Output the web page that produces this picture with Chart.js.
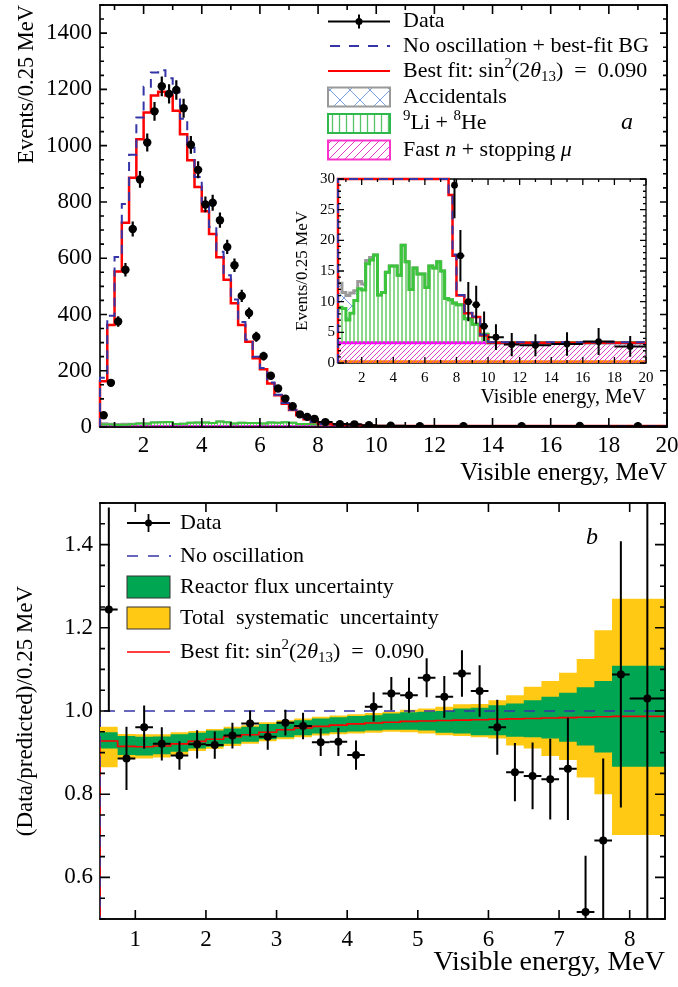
<!DOCTYPE html>
<html>
<head>
<meta charset="utf-8">
<script src="https://cdn.jsdelivr.net/npm/chart.js"></script>
<style>
  body { margin: 0; background: #fff; overflow: hidden; }
  #wrap { position: relative; width: 678px; height: 987px; }
  canvas { position: absolute; }
  #top { left: 0; top: 0; }
  #inset { left: 280px; top: 170px; }
  #bottom { left: 0; top: 490px; }
</style>
</head>
<body>
<div id="wrap">
  <canvas id="top" width="678" height="490"></canvas>
  <canvas id="inset" width="380" height="240"></canvas>
  <canvas id="bottom" width="678" height="497"></canvas>
</div>
<script>
const FONT = '"Liberation Serif", "Times New Roman", serif';
const RED = '#ff0000';
const BLUE = '#3535a8';

// ---- panel a: events / 0.25 MeV ----
const binEdges = [0.5, 0.75, 1, 1.25, 1.5, 1.75, 2, 2.25, 2.5, 2.75, 3, 3.25, 3.5, 3.75, 4, 4.25, 4.5, 4.75,
  5, 5.25, 5.5, 5.75, 6, 6.25, 6.5, 6.75, 7, 7.25, 7.5, 7.75, 8, 8.5, 9, 9.5, 10, 11, 12, 14, 16, 18, 20];
const dataCounts = [42, 157, 375, 559, 704, 880, 1011, 1122, 1211, 1184, 1198, 1133, 1003, 914, 791, 797, 735, 640,
  575, 466, 405, 321, 252, 182, 137, 101, 74, 45, 36, 29, 17.5, 10, 9.5, 6, 4.2, 3.0, 2.9, 3.1, 3.5, 2.7];
const dataErr = [6.5, 12.5, 19, 24, 26.5, 30, 32, 33.5, 35, 34.5, 34.6, 33.7, 31.7, 30.2, 28.1, 28.2, 27.1, 25.3,
  24, 21.6, 20.1, 17.9, 15.9, 13.5, 11.7, 10, 8.6, 6.7, 6, 5.4, 4.2, 3.2, 3.1, 2.4, 2.1, 1.9, 1.8, 1.9, 2.2, 1.7];
const bestFit = [35, 163, 363, 553, 726, 886, 1023, 1118, 1178, 1192, 1178, 1124, 1041, 948, 853, 767, 686, 603,
  523, 440, 363, 303, 244, 205, 155, 113, 83, 60, 42, 27.4, 17.5, 11, 8.1, 7.5, 4.5, 3.3, 3.3, 3.3, 3.3, 3.3];
const noOsc = [37, 175, 395, 604, 793, 968, 1100, 1209, 1260, 1268, 1240, 1189, 1096, 993, 889, 797, 711, 623,
  539, 453, 373, 310, 250, 210, 158, 115, 85, 61, 43, 27.8, 17.7, 11.1, 8.2, 7.6, 4.6, 3.4, 3.4, 3.4, 3.4, 3.4];
const bgFastN = [3.3, 3.3, 3.3, 3.3, 3.3, 3.3, 3.3, 3.3, 3.3, 3.3, 3.3, 3.3, 3.3, 3.3, 3.3, 3.3, 3.3, 3.3, 3.3, 3.3,
  3.3, 3.3, 3.3, 3.3, 3.3, 3.3, 3.3, 3.3, 3.3, 3.3, 3.3, 3.3, 3.3, 3.3, 3.3, 3.3, 3.3, 3.3, 3.3, 3.3];
const bgLiHe = [5.0, 5.8, 5.6, 3.7, 4.8, 6.9, 8.8, 8.6, 12.9, 13.5, 14.3, 7.8, 8.2, 11.5, 12.5, 12.5, 11.0, 15.9,
  13.2, 8.7, 12.2, 11.2, 11.2, 9.0, 12.5, 12.2, 13.2, 11.7, 7.2, 7.0, 6.5, 6.2, 3.9, 3.0, 1.4, 0, 0, 0, 0, 0];
const bgAcc = [6.0, 3.9, 2.6, 4.0, 3.3, 1.6, 1.2, 1.0, 0.5, 0.4, 0, 0, 0, 0, 0, 0, 0, 0, 0, 0,
  0, 0, 0, 0, 0, 0, 0, 0, 0, 0, 0, 0, 0, 0, 0, 0, 0, 0, 0, 0];
const bgAmC = [0.2, 0.2, 0.2, 0.2, 0.2, 0.2, 0.2, 0.2, 0.2, 0.2, 0.2, 0.2, 0.2, 0.2, 0.2, 0.2, 0.2, 0.2, 0.2, 0.2,
  0.2, 0.2, 0.2, 0.2, 0.2, 0.2, 0.2, 0.2, 0.2, 0.2, 0.2, 0.2, 0.2, 0.2, 0.2, 0.2, 0.2, 0.2, 0.2, 0.2];
const topXTicks = [2, 4, 6, 8, 10, 12, 14, 16, 18, 20];
const topYTicks = [0, 200, 400, 600, 800, 1000, 1200, 1400];
const insetXTicks = [2, 4, 6, 8, 10, 12, 14, 16, 18, 20];
const insetYTicks = [0, 5, 10, 15, 20, 25, 30];

// ---- panel b: data / prediction ----
const ratioEdges = [0.5, 0.75, 1, 1.25, 1.5, 1.75, 2, 2.25, 2.5, 2.75, 3, 3.25, 3.5, 3.75, 4, 4.25, 4.5, 4.75,
  5, 5.25, 5.5, 5.75, 6, 6.25, 6.5, 6.75, 7, 7.25, 7.5, 7.75, 8, 8.5];
const ratioData = [1.244, 0.886, 0.961, 0.921, 0.893, 0.920, 0.918, 0.941, 0.970, 0.938, 0.972, 0.964, 0.925,
  0.926, 0.894, 1.010, 1.042, 1.038, 1.080, 1.034, 1.090, 1.048, 0.961, 0.853, 0.844, 0.836, 0.861, 0.517,
  0.689, 1.088, 1.030];
const ratioErr = [0.245, 0.076, 0.052, 0.040, 0.034, 0.034, 0.033, 0.031, 0.031, 0.031, 0.031, 0.032, 0.033,
  0.034, 0.035, 0.035, 0.040, 0.042, 0.047, 0.050, 0.056, 0.062, 0.066, 0.070, 0.080, 0.097, 0.123, 0.135,
  0.197, 0.320, 0.600];
const noOscRatio = [1, 1, 1, 1, 1, 1, 1, 1, 1, 1, 1, 1, 1, 1, 1, 1, 1, 1, 1, 1, 1, 1, 1, 1, 1, 1, 1, 1, 1, 1, 1];
const fitRatio = [0.936, 0.928, 0.915, 0.914, 0.916, 0.921, 0.927, 0.932, 0.938, 0.943, 0.949, 0.955, 0.959,
  0.963, 0.966, 0.969, 0.971, 0.973, 0.975, 0.976, 0.977, 0.978, 0.979, 0.980, 0.981, 0.982, 0.983, 0.984,
  0.985, 0.986, 0.987];
const fluxHi = [0.958, 0.949, 0.940, 0.938, 0.939, 0.944, 0.948, 0.953, 0.958, 0.962, 0.969, 0.974, 0.978,
  0.982, 0.985, 0.988, 0.990, 0.994, 0.997, 0.998, 1.000, 1.006, 1.008, 1.014, 1.018, 1.026, 1.034, 1.044,
  1.057, 1.072, 1.109];
const fluxLo = [0.918, 0.910, 0.894, 0.893, 0.896, 0.902, 0.910, 0.914, 0.921, 0.926, 0.932, 0.937, 0.942,
  0.946, 0.949, 0.951, 0.953, 0.955, 0.955, 0.953, 0.948, 0.946, 0.942, 0.942, 0.938, 0.937, 0.934, 0.926,
  0.917, 0.900, 0.866];
const totHi = [0.996, 0.962, 0.945, 0.944, 0.944, 0.949, 0.952, 0.957, 0.962, 0.966, 0.973, 0.978, 0.982,
  0.986, 0.989, 0.992, 0.995, 0.998, 1.003, 1.006, 1.010, 1.016, 1.017, 1.026, 1.038, 1.058, 1.072, 1.092,
  1.125, 1.194, 1.270];
const totLo = [0.874, 0.865, 0.884, 0.886, 0.888, 0.895, 0.904, 0.909, 0.916, 0.921, 0.927, 0.932, 0.937,
  0.941, 0.944, 0.946, 0.948, 0.950, 0.949, 0.946, 0.942, 0.940, 0.937, 0.934, 0.917, 0.910, 0.892, 0.882,
  0.840, 0.800, 0.702];
const ratioXTicks = [1, 2, 3, 4, 5, 6, 7, 8];
const ratioYTicks = [0.6, 0.8, 1.0, 1.2, 1.4];

// derived: bin centres / half widths, stacked backgrounds
const centres = (edges, n) => Array.from({ length: n }, (_, i) => (edges[i] + edges[i + 1]) / 2);
const halves = (edges, n) => Array.from({ length: n }, (_, i) => (edges[i + 1] - edges[i]) / 2);
const fastTop = bgFastN.slice();
const liTop = bgLiHe.map((v, i) => v + fastTop[i]);
const accTop = bgAcc.map((v, i) => v + liTop[i]);

// histogram as stepped points at the left bin edges
function steps(edges, vals, fromZero) {
  const pts = fromZero ? [{ x: edges[0], y: 0 }] : [];
  vals.forEach((v, i) => pts.push({ x: edges[i], y: v }));
  pts.push({ x: edges[edges.length - 1], y: vals[vals.length - 1] });
  return pts;
}
function hist(pts, color, width, extra) {
  return Object.assign({ data: pts, borderColor: color, borderWidth: width, pointRadius: 0,
    stepped: 'after', fill: false }, extra || {});
}

// hatch patterns
function makePattern(ctx, size, color, lw, kind) {
  const c = document.createElement('canvas');
  c.width = size; c.height = size;
  const g = c.getContext('2d');
  g.strokeStyle = color; g.lineWidth = lw;
  g.beginPath();
  if (kind === 'v') { g.moveTo(size / 2, 0); g.lineTo(size / 2, size); }
  if (kind === 'd') {
    g.moveTo(0, size); g.lineTo(size, 0);
    g.moveTo(-1, 1); g.lineTo(1, -1);
    g.moveTo(size - 1, size + 1); g.lineTo(size + 1, size - 1);
  }
  if (kind === 'x') { g.moveTo(0, 0); g.lineTo(size, size); g.moveTo(size, 0); g.lineTo(0, size); }
  g.stroke();
  return ctx.createPattern(c, 'repeat');
}
const topCtx = document.getElementById('top').getContext('2d');
const insetCtx = document.getElementById('inset').getContext('2d');
const pat = {
  topAcc: makePattern(topCtx, 16, '#7a9fd9', 1, 'x'),
  topLi: makePattern(topCtx, 3, '#66cc66', 1.2, 'v'),
  topFast: makePattern(topCtx, 5, '#e040c8', 1, 'd'),
  legAcc: makePattern(topCtx, 20, '#7a9fd9', 1, 'x'),
  legLi: makePattern(topCtx, 7, '#55c46a', 1.3, 'v'),
  legFast: makePattern(topCtx, 8, '#e040c8', 1, 'd'),
  inAcc: makePattern(insetCtx, 16, '#7a9fd9', 1, 'x'),
  inLi: makePattern(insetCtx, 4, '#5cc85c', 1.4, 'v'),
  inFast: makePattern(insetCtx, 5, '#e040c8', 1, 'd')
};

// text with super/subscripts and italics
function rich(ctx, x, y, parts, size) {
  let cx = x;
  parts.forEach(p => {
    if (typeof p === 'string') p = { t: p };
    const s = (p.sup || p.sub) ? size * 0.68 : size;
    ctx.font = (p.i ? 'italic ' : '') + s + 'px ' + FONT;
    const dy = p.sup ? -size * 0.32 : (p.sub ? size * 0.28 : 0);
    ctx.fillText(p.t, cx, y + dy);
    cx += ctx.measureText(p.t).width;
  });
}
const fitLabel = ['Best fit: sin', { t: '2', sup: true }, '(2', { t: 'θ', i: true }, { t: '13', sub: true }, ')  =  0.090'];

function legendTop(ctx) {
  const x0 = 328, x1 = 390, tx = 403, fs = 22;
  const r = [21.5, 46, 71, 97, 123.5, 150];
  ctx.save();
  ctx.strokeStyle = '#000'; ctx.fillStyle = '#000'; ctx.lineWidth = 2;
  ctx.beginPath();
  ctx.moveTo(x0, r[0]); ctx.lineTo(x1, r[0]);
  ctx.moveTo(359, r[0] - 7); ctx.lineTo(359, r[0] + 7);
  ctx.stroke();
  ctx.beginPath(); ctx.arc(359, r[0], 3.5, 0, Math.PI * 2); ctx.fill();
  ctx.strokeStyle = BLUE; ctx.setLineDash([10, 9]);
  ctx.beginPath(); ctx.moveTo(x0 + 2, r[1]); ctx.lineTo(x1, r[1]); ctx.stroke();
  ctx.setLineDash([]);
  ctx.strokeStyle = RED;
  ctx.beginPath(); ctx.moveTo(x0, r[2]); ctx.lineTo(x1, r[2]); ctx.stroke();
  [[r[3], pat.legAcc, '#999999'], [r[4], pat.legLi, '#2fb84c'], [r[5], pat.legFast, '#ff33cc']].forEach(([y, p, col]) => {
    ctx.fillStyle = p; ctx.fillRect(x0, y - 9.5, x1 - x0, 19);
    ctx.strokeStyle = col; ctx.lineWidth = 2; ctx.strokeRect(x0, y - 9.5, x1 - x0, 19);
  });
  ctx.fillStyle = '#000'; ctx.textBaseline = 'middle'; ctx.textAlign = 'left';
  rich(ctx, tx, r[0], ['Data'], fs);
  rich(ctx, tx, r[1], ['No oscillation + best-fit BG'], fs);
  rich(ctx, tx, r[2], fitLabel, fs);
  rich(ctx, tx, r[3], ['Accidentals'], fs);
  rich(ctx, tx, r[4], [{ t: '9', sup: true }, 'Li + ', { t: '8', sup: true }, 'He'], fs);
  rich(ctx, tx, r[5], ['Fast ', { t: 'n', i: true }, ' + stopping ', { t: 'μ', i: true }], fs);
  rich(ctx, 621, 123, [{ t: 'a', i: true }], 24);
  ctx.restore();
}

function legendBottom(ctx) {
  const x0 = 127, x1 = 170, tx = 180, fs = 22;
  const r = [33, 66, 97, 128, 162];
  ctx.save();
  ctx.strokeStyle = '#000'; ctx.fillStyle = '#000'; ctx.lineWidth = 1.8;
  ctx.beginPath();
  ctx.moveTo(x0, r[0]); ctx.lineTo(x1, r[0]);
  ctx.moveTo(148.5, r[0] - 9); ctx.lineTo(148.5, r[0] + 9);
  ctx.stroke();
  ctx.beginPath(); ctx.arc(148.5, r[0], 3.5, 0, Math.PI * 2); ctx.fill();
  ctx.strokeStyle = BLUE; ctx.lineWidth = 1.5; ctx.setLineDash([11, 10]);
  ctx.beginPath(); ctx.moveTo(x0, r[1]); ctx.lineTo(x1 + 1, r[1]); ctx.stroke();
  ctx.setLineDash([]);
  [[r[2], '#00a651'], [r[3], '#ffc914']].forEach(([y, col]) => {
    ctx.fillStyle = col; ctx.fillRect(x0, y - 11, x1 - x0, 22);
    ctx.strokeStyle = '#333'; ctx.lineWidth = 1; ctx.strokeRect(x0, y - 11, x1 - x0, 22);
  });
  ctx.strokeStyle = RED; ctx.lineWidth = 1.5;
  ctx.beginPath(); ctx.moveTo(x0, r[4]); ctx.lineTo(x1, r[4]); ctx.stroke();
  ctx.fillStyle = '#000'; ctx.textBaseline = 'middle'; ctx.textAlign = 'left';
  rich(ctx, tx, r[0], ['Data'], fs);
  rich(ctx, tx, r[1], ['No oscillation'], fs);
  rich(ctx, tx, r[2], ['Reactor flux uncertainty'], fs);
  rich(ctx, tx, r[3], ['Total  systematic  uncertainty'], fs);
  rich(ctx, tx, r[4], fitLabel, fs);
  rich(ctx, 586, 48, [{ t: 'b', i: true }], 24);
  ctx.restore();
}

// per-canvas extras: data points, frame ticks, legend
const panels = {
  top: {
    points: { x: centres(binEdges, 40), y: dataCounts, xe: halves(binEdges, 40), ye: dataErr, r: 4.2, lw: 2.2 },
    frameW: 1.6, redraw: ['top', 'right', 'bottom'],
    ticks: { xMajor: 2, xMinor: 1, yMajor: 200, yMinor: 50, xLen: [9, 5], yLen: [7, 4] },
    legend: legendTop
  },
  inset: {
    points: { x: centres(binEdges, 40), y: dataCounts, xe: halves(binEdges, 40), ye: dataErr, r: 3.4, lw: 2 },
    frameW: 1.3, redraw: [],
    ticks: { xMajor: 2, xMinor: 1, yMajor: 5, yMinor: 1, xLen: [6, 3], yLen: [6, 3] }
  },
  bottom: {
    points: { x: centres(ratioEdges, 31), y: ratioData, xe: halves(ratioEdges, 31), ye: ratioErr, r: 4, lw: 2 },
    frameW: 1.6, redraw: ['top', 'right', 'bottom'],
    ticks: { xMajor: 1, xMinor: 1, yMajor: 0.2, yMinor: 0.05, xLen: [9, 9], yLen: [10, 5] },
    legend: legendBottom
  }
};

function drawFrame(ctx, a, sides, w) {
  ctx.save();
  ctx.strokeStyle = '#000'; ctx.lineWidth = w; ctx.lineCap = 'square';
  ctx.beginPath();
  if (sides.includes('top')) { ctx.moveTo(a.left, a.top); ctx.lineTo(a.right, a.top); }
  if (sides.includes('right')) { ctx.moveTo(a.right, a.top); ctx.lineTo(a.right, a.bottom); }
  if (sides.includes('bottom')) { ctx.moveTo(a.left, a.bottom); ctx.lineTo(a.right, a.bottom); }
  if (sides.includes('left')) { ctx.moveTo(a.left, a.top); ctx.lineTo(a.left, a.bottom); }
  ctx.stroke();
  ctx.restore();
}

const panelPlugin = {
  id: 'panel',
  beforeDatasetsDraw(chart) {
    const P = panels[chart.canvas.id];
    drawFrame(chart.ctx, chart.chartArea, ['top', 'right', 'bottom', 'left'], P.frameW);
  },
  afterDatasetsDraw(chart) {
    const P = panels[chart.canvas.id];
    const { ctx, chartArea: a } = chart;
    const sx = chart.scales.x, sy = chart.scales.y;
    const p = P.points;
    ctx.save();
    ctx.beginPath(); ctx.rect(a.left, a.top, a.right - a.left, a.bottom - a.top); ctx.clip();
    ctx.strokeStyle = '#000'; ctx.fillStyle = '#000'; ctx.lineWidth = p.lw;
    p.x.forEach((xv, i) => {
      const px = sx.getPixelForValue(xv), py = sy.getPixelForValue(p.y[i]);
      ctx.beginPath();
      ctx.moveTo(sx.getPixelForValue(xv - p.xe[i]), py);
      ctx.lineTo(sx.getPixelForValue(xv + p.xe[i]), py);
      ctx.moveTo(px, sy.getPixelForValue(p.y[i] - p.ye[i]));
      ctx.lineTo(px, sy.getPixelForValue(p.y[i] + p.ye[i]));
      ctx.stroke();
      ctx.beginPath(); ctx.arc(px, py, p.r, 0, Math.PI * 2); ctx.fill();
    });
    ctx.restore();

    drawFrame(ctx, a, P.redraw, P.frameW);
    ctx.save();
    ctx.strokeStyle = '#000'; ctx.lineWidth = P.frameW;
    const T = P.ticks;
    const each = (min, max, step, fn) => {
      for (let n = Math.ceil(min / step - 1e-6); n * step <= max + 1e-6; n++) fn(n * step);
    };
    const isMajor = (v, m) => Math.abs(v / m - Math.round(v / m)) < 1e-6;
    ctx.beginPath();
    each(sx.min, sx.max, T.xMinor, v => {
      const px = sx.getPixelForValue(v);
      const L = isMajor(v, T.xMajor) ? T.xLen[0] : T.xLen[1];
      ctx.moveTo(px, a.bottom); ctx.lineTo(px, a.bottom - L);
      ctx.moveTo(px, a.top); ctx.lineTo(px, a.top + L);
    });
    each(sy.min, sy.max, T.yMinor, v => {
      const py = sy.getPixelForValue(v);
      const L = isMajor(v, T.yMajor) ? T.yLen[0] : T.yLen[1];
      ctx.moveTo(a.left, py); ctx.lineTo(a.left + L, py);
      ctx.moveTo(a.right, py); ctx.lineTo(a.right - L, py);
    });
    ctx.stroke();
    ctx.restore();
    if (P.legend) P.legend(ctx, a);
  }
};

function axisOpts(o) {
  return {
    type: 'linear', min: o.min, max: o.max,
    grid: { display: false, drawTicks: false }, border: { display: false },
    afterBuildTicks: s => { s.ticks = o.ticks.map(v => ({ value: v })); },
    afterFit: s => {
      if (o.w) s.width = o.w;
      if (o.h) s.height = o.h;
      s.paddingTop = 0; s.paddingBottom = 0; s.paddingLeft = 0; s.paddingRight = 0;
    },
    ticks: { color: '#000', font: { family: FONT, size: o.fs }, padding: o.tp, maxRotation: 0, autoSkip: false,
      callback: o.fmt || (v => String(v)) },
    title: { display: true, text: o.title, align: o.align, color: '#000',
      font: { family: FONT, size: o.tfs }, padding: o.tpad }
  };
}

function makeChart(id, datasets, x, y, pad) {
  return new Chart(document.getElementById(id), {
    type: 'line',
    data: { datasets },
    options: {
      responsive: false, animation: false, devicePixelRatio: 1, events: [],
      layout: { padding: pad },
      plugins: { legend: { display: false }, tooltip: { enabled: false } },
      scales: { x: axisOpts(x), y: axisOpts(y) }
    },
    plugins: [panelPlugin]
  });
}

// order: lower value is drawn later (on top)
function spectrumSets(clampMax, w, acc, li, fast) {
  const cl = v => (clampMax ? Math.min(v, clampMax) : v);
  return [
    hist(steps(binEdges, noOsc.map(cl), true), BLUE, w.blue, { borderDash: [9, 6], clip: 4, order: -2 }),
    hist(steps(binEdges, bestFit.map(cl), true), RED, w.red, { clip: 4, order: -1 }),
    hist(steps(binEdges, accTop), '#9a9a9a', w.bg, { fill: '+1', backgroundColor: acc, order: 2 }),
    hist(steps(binEdges, liTop), '#3cc43c', w.bg, { fill: '+1', backgroundColor: li, order: 1 }),
    hist(steps(binEdges, fastTop), '#ff00ff', w.bg, { fill: 'origin', backgroundColor: fast, order: 3 }),
    hist(steps(binEdges, bgAmC), '#ff8000', w.amc, { order: 4 })
  ];
}

// panel a
makeChart('top',
  spectrumSets(0, { blue: 2, red: 2.5, bg: 2, amc: 3 }, pat.topAcc, pat.topLi, pat.topFast),
  { min: 0.5, max: 20, ticks: topXTicks, h: 63, fs: 23, tp: 5, title: 'Visible energy, MeV', align: 'end',
    tfs: 25, tpad: { bottom: 2 } },
  { min: 0, max: 1500, ticks: topYTicks, w: 100, fs: 23, tp: 8, title: 'Events/0.25 MeV', align: 'end',
    tfs: 22.5, tpad: { top: 14 } },
  { left: 0, right: 11, top: 5, bottom: 0 });

// inset of panel a
makeChart('inset',
  spectrumSets(30, { blue: 2, red: 2.5, bg: 3, amc: 3 }, pat.inAcc, pat.inLi, pat.inFast),
  { min: 0.5, max: 20, ticks: insetXTicks, h: 47, fs: 15, tp: 6, title: 'Visible energy, MeV', align: 'end',
    tfs: 20, tpad: { bottom: 0 } },
  { min: 0, max: 30, ticks: insetYTicks, w: 58, fs: 15, tp: 3, title: 'Events/0.25 MeV', align: 'center',
    tfs: 17, tpad: { top: 12 } },
  { left: 0, right: 14, top: 9, bottom: 0 });

// panel b
const clear = 'rgba(0,0,0,0)';
makeChart('bottom', [
    hist(steps(ratioEdges, noOscRatio, true), BLUE, 1.6, { borderDash: [11, 9] }),
    hist(steps(ratioEdges, fitRatio, true), RED, 1.6),
    hist(steps(ratioEdges, fluxHi), clear, 1, { fill: '+1', backgroundColor: '#00a651' }),
    hist(steps(ratioEdges, fluxLo), clear, 1),
    hist(steps(ratioEdges, totHi), clear, 1, { fill: '+1', backgroundColor: '#ffc914' }),
    hist(steps(ratioEdges, totLo), clear, 1)
  ],
  { min: 0.5, max: 8.5, ticks: ratioXTicks, h: 68, fs: 23, tp: 7, title: 'Visible energy, MeV', align: 'end',
    tfs: 28, tpad: { bottom: 8 } },
  { min: 0.5, max: 1.5, ticks: ratioYTicks, w: 100, fs: 23, tp: 7, title: '(Data/predicted)/0.25 MeV',
    align: 'center', tfs: 23, tpad: { top: 12 }, fmt: v => v.toFixed(1) },
  { left: 0, right: 13, top: 13, bottom: 0 });
</script>
</body>
</html>
